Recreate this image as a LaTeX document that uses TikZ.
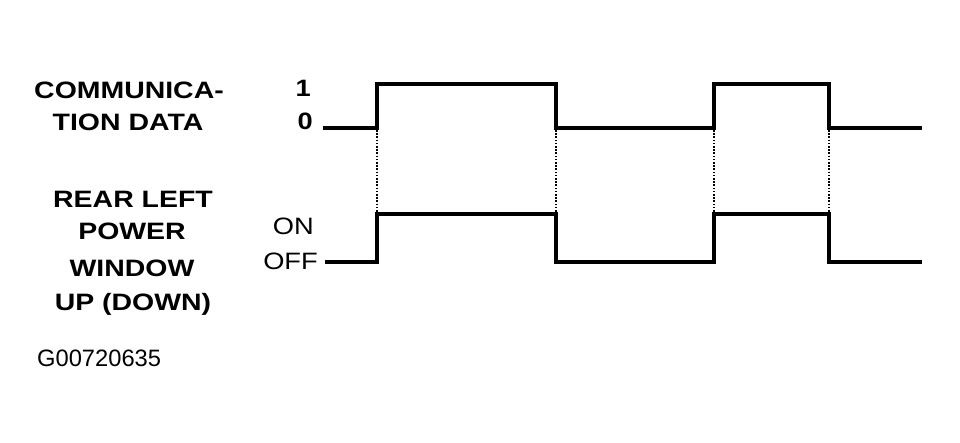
\documentclass[tikz,border=0pt]{standalone}
\usepackage{fontspec}
\setmainfont{Liberation Sans}

\tikzset{
  lbl/.style={font=\bfseries\fontsize{23.7}{28}\selectfont, anchor=base, inner sep=0pt, xscale=1.2, transform shape},
  lvl/.style={font=\fontsize{23.7}{28}\selectfont, anchor=base east, inner sep=0pt, xscale=1.15, transform shape},
  wave/.style={line width=3.2pt, line join=miter},
  sync/.style={line width=2.6pt, dash pattern=on 1.6pt off 1.6pt}
}

\begin{document}
\begin{tikzpicture}[x=1pt,y=1pt]
      \useasboundingbox [fill=white] (0,0) rectangle (960,442);

      % signal names
      \node [lbl] (comA) at (129,343) {COMMUNICA-};
      \node [lbl] (comB) at (128,311) {TION DATA};
      \node [lbl] (rearA) at (133,234) {REAR LEFT};
      \node [lbl] (rearB) at (132,202) {POWER};
      \node [lbl] (rearC) at (132,165) {WINDOW};
      \node [lbl] (rearD) at (133,132) {UP (DOWN)};

      % levels
      \node [lvl, font=\bfseries\fontsize{23.7}{28}\selectfont] (one) at (311,345) {1};
      \node [lvl, font=\bfseries\fontsize{23.7}{28}\selectfont] (zero) at (313,312) {0};
      \node [lvl] (on) at (314,207) {ON};
      \node [lvl] (off) at (318,172) {OFF};

      \node [font=\fontsize{23.7}{28}\selectfont, anchor=base west, inner sep=0pt] (gnum) at (37,76) {G00720635};

      % communication data
      \draw [wave] (323,314) -- (377,314) -- (377,358) -- (556,358) -- (556,314)
            -- (714,314) -- (714,358) -- (829,358) -- (829,314) -- (922,314);

      % window signal
      \draw [wave] (325,180) -- (377,180) -- (377,228) -- (556,228) -- (556,180)
            -- (714,180) -- (714,228) -- (829,228) -- (829,180) -- (922,180);

      % timing marks
      \foreach \t in {377,556,714,829}
        \draw [sync] (\t,312) -- (\t,230);

\end{tikzpicture}
\end{document}
